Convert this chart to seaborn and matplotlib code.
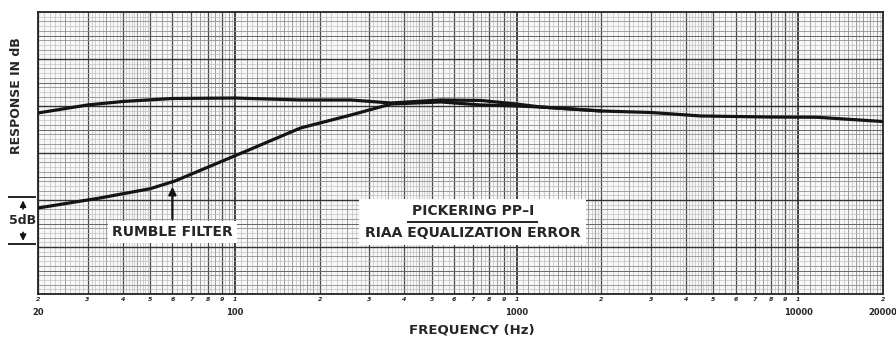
import numpy as np
import pandas as pd
import matplotlib
matplotlib.use("Agg")
import matplotlib.pyplot as plt
import seaborn as sns

# ---- data ----
freq_main = [20, 30, 40, 60, 100, 171, 258, 358, 539, 748, 1000, 1222, 2000, 3000, 4500, 7800, 11700, 20000]
resp_main = [19.26, 20.11, 20.48, 20.80, 20.85, 20.64, 20.64, 20.32, 20.64, 20.59, 20.21, 19.89, 19.47, 19.31,
             18.94, 18.83, 18.80, 18.35]
freq_rumble = [20, 33, 50, 61, 76, 112, 171, 258, 358, 539, 748, 1000, 1222, 2000]
resp_rumble = [9.15, 10.2, 11.2, 12.0, 13.2, 15.32, 17.66, 19.04, 20.21, 20.43, 20.11, 20.0, 19.89, 19.47]

major_ticks = [20, 100, 1000, 10000, 20000]
major_labels = ["20", "100", "1000", "10000", "20000"]
digit_ticks = [k * 10 ** d for d in (1, 2, 3, 4) for k in range(1, 10) if 20 <= k * 10 ** d <= 20000]
digit_labels = [str(int(str(v)[0])) for v in digit_ticks]

df_main = pd.DataFrame({"freq": freq_main, "resp": resp_main})
df_rumble = pd.DataFrame({"freq": freq_rumble, "resp": resp_rumble})

sns.set_style("white")
plt.rcParams["font.family"] = ["DejaVu Sans"]

fig = plt.figure(figsize=(8.96, 3.39), dpi=100)
ax = fig.add_axes([38 / 896, 45 / 339, 845 / 896, 282 / 339])
ax.set_xscale("log")
ax.set_xlim(20, 20000)
ax.set_ylim(0, 30)
ax.set_facecolor("#f7f7f7")

# ---- graph-paper grid ----
fine_x, med_x, int_x, dec_x = [], [], [], []
for d in range(1, 5):
    base = 10 ** d
    for m in np.arange(1.0, 10.0, 0.05):
        v = m * base
        if v < 20 or v > 20000:
            continue
        r = round(m, 2)
        if abs(r - round(r)) < 1e-6:
            (dec_x if round(r) == 1 else int_x).append(v)
        elif r < 2:
            if abs(r * 10 - round(r * 10)) < 1e-6:
                med_x.append(v)
            else:
                fine_x.append(v)
        elif r < 5:
            if abs(r * 2 - round(r * 2)) < 1e-6:
                med_x.append(v)
            elif abs(r * 10 - round(r * 10)) < 1e-6:
                fine_x.append(v)
        else:
            if abs(r * 2 - round(r * 2)) < 1e-6:
                med_x.append(v)
            elif abs(r * 4 - round(r * 4)) < 1e-6:
                fine_x.append(v)
ax.vlines(fine_x, 0, 30, color="#b4b4b4", lw=0.4, zorder=0)
ax.vlines(med_x, 0, 30, color="#8e8e8e", lw=0.6, zorder=0)
ax.vlines(int_x, 0, 30, color="#4a4a4a", lw=0.9, zorder=0)
ax.vlines(dec_x, 0, 30, color="#222222", lw=1.2, zorder=0)
ax.hlines(np.arange(0.5, 30, 1.0), 20, 20000, color="#b4b4b4", lw=0.4, zorder=0)
ax.hlines(np.arange(1, 30, 1.0), 20, 20000, color="#8e8e8e", lw=0.6, zorder=0)
ax.hlines(np.arange(2.5, 30, 5.0), 20, 20000, color="#666666", lw=0.7, zorder=0)
ax.hlines(np.arange(5, 30, 5.0), 20, 20000, color="#333333", lw=1.0, zorder=0)

# ---- curves ----
sns.lineplot(data=df_main, x="freq", y="resp", ax=ax, color="#141414", linewidth=2.3, zorder=4)
sns.lineplot(data=df_rumble, x="freq", y="resp", ax=ax, color="#141414", linewidth=2.3, zorder=4)

# ---- ticks ----
ax.set_yticks([])
ax.xaxis.remove_overlapping_locs = False
ax.set_xticks(major_ticks)
ax.set_xticklabels(major_labels, fontsize=6, fontweight="bold")
ax.set_xticks(digit_ticks, minor=True)
ax.set_xticklabels(digit_labels, minor=True, fontsize=4.5, fontweight="bold", fontstyle="italic")
ax.tick_params(axis="x", which="minor", length=0, pad=2.5)
ax.tick_params(axis="x", which="major", length=0, pad=10)
ax.set_xlabel("")
ax.set_ylabel("")
for s in ax.spines.values():
    s.set_color("#222222")
    s.set_linewidth(1.3)

# ---- annotations ----
ax.text(60, 6.6, "RUMBLE FILTER", ha="center", va="center", fontsize=10, fontweight="bold",
        bbox=dict(facecolor="white", edgecolor="none", pad=3), zorder=6)
ax.annotate("", xy=(60, 11.7), xytext=(60, 7.7),
            arrowprops=dict(arrowstyle="-|>", color="#141414", lw=1.6, mutation_scale=11), zorder=6)

ax.text(699, 7.66, "PICKERING PP\u2013I\nRIAA EQUALIZATION ERROR", ha="center", va="center",
        fontsize=10, fontweight="bold", linespacing=1.7,
        bbox=dict(facecolor="white", edgecolor="none", pad=4), zorder=6)
ax.hlines(7.7, 409, 1191, color="#141414", lw=1.3, zorder=7)

# 5 dB scale marker
ax.text(17.7, 7.8, "5dB", ha="center", va="center", fontsize=9, fontweight="bold", clip_on=False)
ax.hlines([10.3, 5.3], 15.6, 19.6, color="#141414", lw=1.3, clip_on=False)
ax.annotate("", xy=(17.7, 10.25), xytext=(17.7, 8.75), annotation_clip=False,
            arrowprops=dict(arrowstyle="-|>", color="#141414", lw=1.2, mutation_scale=9))
ax.annotate("", xy=(17.7, 5.35), xytext=(17.7, 6.85), annotation_clip=False,
            arrowprops=dict(arrowstyle="-|>", color="#141414", lw=1.2, mutation_scale=9))

fig.text(17 / 896, 1 - 96 / 339, "RESPONSE IN dB", rotation=90, ha="center", va="center",
         fontsize=9, fontweight="bold")
fig.text(472 / 896, 1 - 330 / 339, "FREQUENCY (Hz)", ha="center", va="center",
         fontsize=9.5, fontweight="bold")

fig.savefig("out.png", dpi=100, facecolor="white")
